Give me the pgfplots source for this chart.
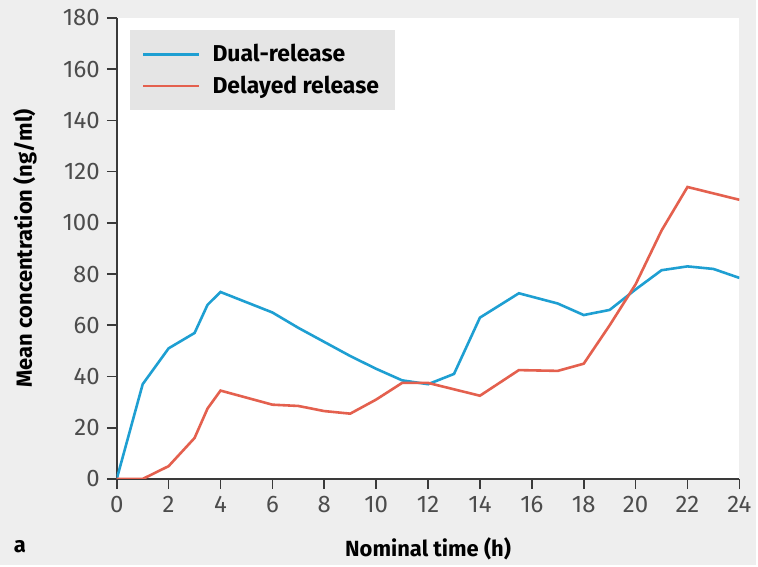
\documentclass[border=0pt]{standalone}
\usepackage{fontspec}
\setmainfont{Fira Sans}
\usepackage{pgfplots}
\pgfplotsset{compat=1.18}
\definecolor{dualblue}{HTML}{1E9FD2}
\definecolor{delayred}{HTML}{E4604E}
\definecolor{bggray}{HTML}{EEEEEE}
\definecolor{leggray}{HTML}{E5E5E5}
\definecolor{axisgray}{HTML}{3A3A3A}

\begin{document}
\begin{tikzpicture}
% page background
\fill[bggray] (-58.5pt,-43pt) rectangle (320.5pt,240pt);
\begin{axis}[
  at={(0,0)}, anchor=south west,
  scale only axis, width=312pt, height=231pt,
  xmin=0, xmax=24, ymin=0, ymax=180,
  xtick={0,2,...,24}, ytick={0,20,...,180},
  axis lines*=left,
  axis line style={axisgray, line width=0.8pt},
  tick style={axisgray, line width=0.8pt},
  tick align=outside, major tick length=5pt,
  axis background/.style={fill=white},
  tick label style={font=\fontsize{12}{14}\selectfont, text=black!70},
  /pgf/number format/assume math mode=true,
  xlabel={Nominal time (h)},
  ylabel={Mean concentration (ng/ml)},
  every axis x label/.style={at={([yshift=-35pt]axis description cs:0.5,0)}, anchor=center,
    font=\bfseries\fontsize{11}{13}\selectfont},
  every axis y label/.style={at={([xshift=-46pt]axis description cs:0,0.5)}, anchor=center, rotate=90,
    font=\bfseries\fontsize{11}{13}\selectfont},
  legend style={at={([xshift=6.5pt,yshift=-6pt]axis description cs:0,1)}, anchor=north west,
    fill=leggray, draw=none, font=\bfseries\fontsize{11.5}{13}\selectfont,
    inner xsep=6pt, inner ysep=5pt, row sep=1.5pt},
  legend cell align=left,
  legend image code/.code={\draw[#1, line width=1.3pt] (0pt,0pt) -- (28pt,0pt);
    \path (32pt,0pt);},
]
\addplot[dualblue, line width=1.3pt] coordinates {
  (0,0) (1,37) (2,51) (3,57) (3.5,68) (4,73) (6,65) (7,59) (9,48) (10,43)
  (11,38.5) (12,37) (13,41) (14,63) (15.5,72.5) (17,68.5) (18,64) (19,66)
  (20,74) (21,81.5) (22,83) (23,82) (24,78.5)
};
\addlegendentry{Dual-release}
\addplot[delayred, line width=1.3pt] coordinates {
  (0,0) (1,0) (2,5) (3,16) (3.5,27.5) (4,34.5) (6,29) (7,28.5) (8,26.5) (9,25.5)
  (10,31) (11,37.5) (12,37.5) (14,32.5) (15.5,42.5) (17,42.2) (18,45) (19,60)
  (20,76) (21,97) (22,114) (24,109)
};
\addlegendentry{Delayed release}
\end{axis}
\node[font=\bfseries\fontsize{11}{13}\selectfont] at (-48.5pt,-34pt) {a};
\end{tikzpicture}
\end{document}
